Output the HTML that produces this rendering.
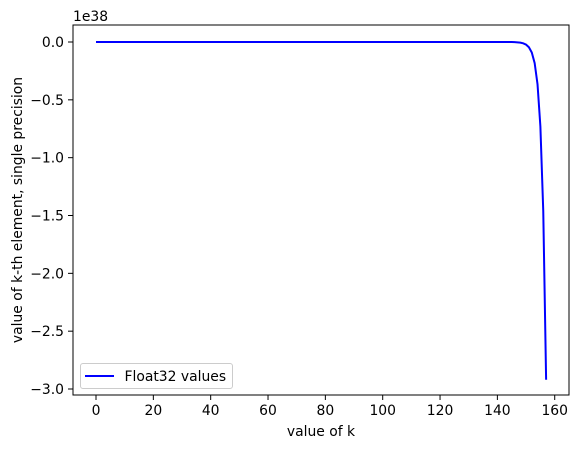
<!DOCTYPE html>
<html><head><meta charset="utf-8"><style>
html,body{margin:0;padding:0;background:#fff}
svg text{font-family:"DejaVu Sans","Liberation Sans",sans-serif;fill:#000}
</style></head><body>
<svg id="chart" width="579" height="448" xmlns="http://www.w3.org/2000/svg">
<rect x="0" y="0" width="579" height="448" fill="#fff"/>
<g id="ticks"></g>
<polyline id="series" fill="none" stroke="#0000ff" stroke-width="2"/>
<rect x="73" y="25" width="496" height="370" fill="none" stroke="#000" stroke-width="1"/>
<text x="73" y="21" font-size="13.9">1e38</text>
<text x="321" y="436" font-size="13.9" text-anchor="middle">value of k</text>
<text transform="translate(22,210) rotate(-90)" font-size="13.9" text-anchor="middle">value of k-th element, single precision</text>
<g>
<rect x="80.5" y="363.5" width="152" height="25" rx="2.5" fill="#fff" fill-opacity="0.8" stroke="#ccc"/>
<line x1="85" y1="376" x2="114" y2="376" stroke="#0000ff" stroke-width="2"/>
<text x="124.5" y="381" font-size="13.9">Float32 values</text>
</g>
</svg>
<script>
const xTicks=[0,20,40,60,80,100,120,140,160];
const yTicks=[0,-0.5,-1,-1.5,-2,-2.5,-3];
const yTickLabels=["0.0","−0.5","−1.0","−1.5","−2.0","−2.5","−3.0"];
const headValues=[0,0,0,0,0,0,0,0,0,0,0,0,0,0,0,0,0,0,0,0,0,0,0,0,0,0,0,0,0,0,0,0,0,0,0,0,0,0,0,0,0,0,0,0,0,0,0,0,0,0,0,0,0,0,0,0,0,0,0,0,0,0,0,0,0,0,0,0,0,0,0,0,0,0,0,0,0,0,0,0,0,0,0,0,0,0,0,0,0,0,0,0,0,0,0,0,0,0,0,0,0,0,0,0,0,0,0,0,0,0,0,0,0,0,0,0,0,0,0,0,0,0,0,0,0,0,0,0,0,0,0,0,0,0,0,0,0,0,0,0,0,0,0,0,0,0,-0.0014,-0.0028,-0.0057];
const tailValues=[-0.0114,-0.0228,-0.0456,-0.091,-0.182,-0.365,-0.73,-1.46,-2.92];
const values=headValues.concat(tailValues);
const X=k=>96+k*2.867;
const Y=v=>42-v*115.67;
const svg="http://www.w3.org/2000/svg";
const g=document.getElementById('ticks');
function mk(t,a){const e=document.createElementNS(svg,t);for(const k in a)e.setAttribute(k,a[k]);g.appendChild(e);return e;}
xTicks.forEach(t=>{
 const l=mk('line',{x1:X(t),x2:X(t),y1:395,y2:400,stroke:'#000'});
 
 
 const tx=mk('text',{x:X(t),y:415,'font-size':13.9,'text-anchor':'middle'});
 tx.textContent=t;
 
 
});
yTicks.forEach((t,i)=>{
 const l=mk('line',{x1:68,x2:73,y1:Y(t),y2:Y(t),stroke:'#000'});
 
 
 const tx=mk('text',{x:64,y:Y(t)+5,'font-size':13.9,'text-anchor':'end'});
 tx.textContent=yTickLabels[i];
 
 
});
document.getElementById('series').setAttribute('points',values.map((v,k)=>X(k)+','+Y(v)).join(' '));
</script>
</body></html>
